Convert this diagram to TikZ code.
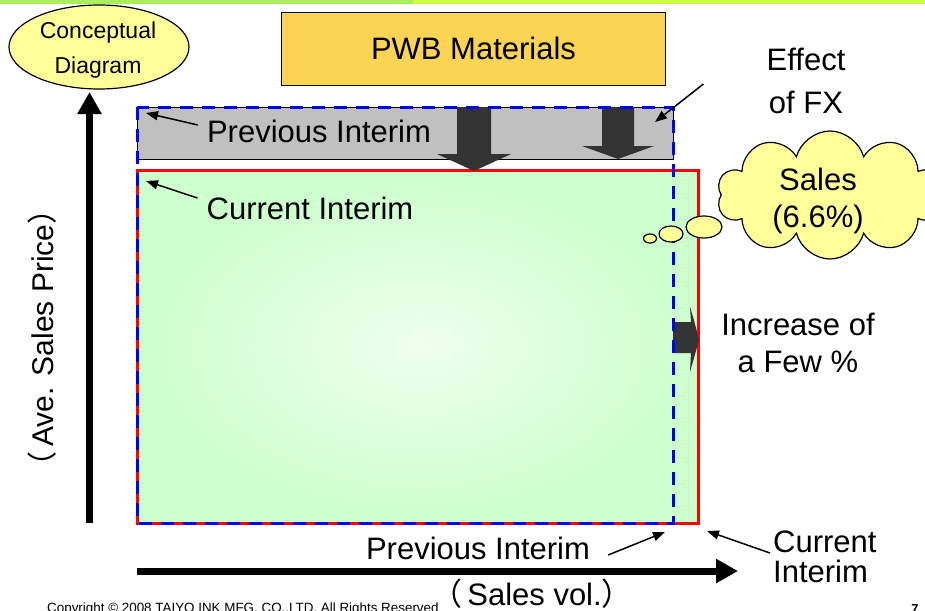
\documentclass[tikz,border=0pt]{standalone}
\usepackage{fontspec}
\setmainfont{Liberation Sans}
\newfontfamily\cjk{Noto Sans CJK JP}
\usetikzlibrary{shapes.geometric,shapes.symbols,arrows.meta}
\definecolor{topgreen}{HTML}{AAEE5E}
\definecolor{topyellow}{HTML}{CCFF44}
\definecolor{paleyellow}{HTML}{FFFF99}
\definecolor{goldfill}{HTML}{FAD452}
\definecolor{boxgray}{HTML}{C0C0C0}
\definecolor{darkarrow}{HTML}{333333}
\definecolor{greenedge}{HTML}{CCFFCC}
\definecolor{greencenter}{HTML}{EEFFEE}
\begin{document}
\begin{tikzpicture}[x=1pt,y=-1pt,
  lbl/.style={font=\fontsize{31}{37}\selectfont, inner sep=0pt, align=center},
  pointer/.style={line width=1.5pt, -{Triangle[length=12pt,width=9pt]}},
  axis/.style={line width=7pt, -{Triangle[length=22pt,width=23pt]}},
  fatarrow/.style={fill=darkarrow, draw=none},
  bubble/.style={ellipse, draw=black, line width=1.2pt, fill=paleyellow, inner sep=0pt}]
\clip (0,0) rectangle (925,610);
\fill[white] (0,0) rectangle (925,610);
% top bar
\fill[topgreen] (0,0) rectangle (413,4);
\fill[topyellow] (413,0) rectangle (925,4);
% concept ellipse
\node[ellipse, draw=black, line width=1.2pt, fill=paleyellow, minimum width=180pt, minimum height=84pt, inner sep=0pt] (concept) at (99,47) {};
\node[font=\fontsize{23}{35}\selectfont, align=center, inner sep=0pt] (concepttxt) at (98,50) {Conceptual\\Diagram};
% PWB box
\node[draw=black, line width=0.8pt, fill=goldfill, minimum width=384pt, minimum height=73pt, inner sep=0pt,
      font=\fontsize{31}{37}\selectfont] (pwb) at (473.5,48.5) {PWB Materials};
% axes
\coordinate (ybot) at (89.5,523);
\coordinate (ytop) at (89.5,92);
\draw[axis] (ybot) -- (ytop);
\coordinate (xleft) at (137,571);
\coordinate (xright) at (738,571);
\draw[axis] (xleft) -- (xright);
% areas
\shade[inner color=greencenter, outer color=greenedge] (137,170) rectangle (698,523);
\draw[fill=boxgray, line width=0.8pt] (137,107) rectangle (673,159);
\draw[red, line width=3pt] (137,170) rectangle (698,523);
% fat arrows
\fill[fatarrow] (457,107) -- (491,107) -- (491,154) -- (511,154) -- (474,171) -- (437,154) -- (457,154) -- cycle;
\fill[fatarrow] (602,107) -- (634,107) -- (634,146) -- (654,146) -- (618,159) -- (582,146) -- (602,146) -- cycle;
\fill[fatarrow] (673,322) -- (691,322) -- (690,307) .. controls (694,320) .. (699,340) .. controls (694,358) .. (690,372) -- (691,353) -- (673,353) -- cycle;
% previous interim dashed outline
\draw[blue, line width=3pt, dash pattern=on 13pt off 9pt] (137,107) rectangle (673,523);
% cloud and bubbles
\node[cloud, cloud puffs=10, aspect=1.7, draw=black, line width=1.2pt, fill=paleyellow,
      minimum width=226pt, minimum height=128pt, inner sep=0pt] (cloud) at (830,195) {};
\node[lbl] (sales) at (818,201) {Sales\\(6.6\%)};
\node[bubble, minimum width=36pt, minimum height=22pt] (b1) at (704,227) {};
\node[bubble, minimum width=24pt, minimum height=16pt] (b2) at (671,234) {};
\node[bubble, minimum width=13pt, minimum height=9pt] (b3) at (650,238.5) {};
% labels
\node[lbl] (prevtop) at (319,131) {Previous Interim};
\node[lbl] (curtop) at (310,208) {Current Interim};
\node[lbl, font=\fontsize{31}{43}\selectfont] (fx) at (806,81) {Effect\\of FX};
\node[lbl] (incr) at (798,343) {Increase of\\a Few \%};
\node[lbl] (prevbot) at (478,548) {Previous Interim};
\node[lbl, align=left, anchor=west, font=\fontsize{31}{30}\selectfont] (curbot) at (773,557) {Current\\Interim};
\node[lbl, font=\fontsize{30}{36}\selectfont, rotate=90] (ylab) at (42,338) {{\cjk （}\,Ave. Sales Price{\cjk ）}};
\node[lbl] (xlab) at (532,594) {{\cjk （}\,Sales vol.{\cjk ）}};
\node[inner sep=0pt, anchor=north west, font=\fontsize{13.4}{15}\selectfont] (copy) at (47,603)
  {Copyright \textcopyright{} 2008 TAIYO INK MFG. CO.,LTD. All Rights Reserved};
\node[inner sep=0pt, anchor=north, font=\fontsize{13}{14}\selectfont\bfseries] (pg) at (915,604) {7};
% pointers
\coordinate (prevtoptip) at (146,113);
\draw[pointer] ([shift={(-9,-6)}]prevtop.west) -- (prevtoptip);
\coordinate (curtoptip) at (146,181);
\draw[pointer] ([shift={(-9,-10)}]curtop.west) -- (curtoptip);
\coordinate (fxtip) at (655,122);
\draw[pointer] ([shift={(-63,3)}]fx.west) -- (fxtip);
\coordinate (prevbottip) at (665,532);
\draw[pointer] ([shift={(18,7)}]prevbot.east) -- (prevbottip);
\coordinate (curbottip) at (707,531);
\draw[pointer] ([shift={(-3,-4)}]curbot.west) -- (curbottip);
\end{tikzpicture}
\end{document}
